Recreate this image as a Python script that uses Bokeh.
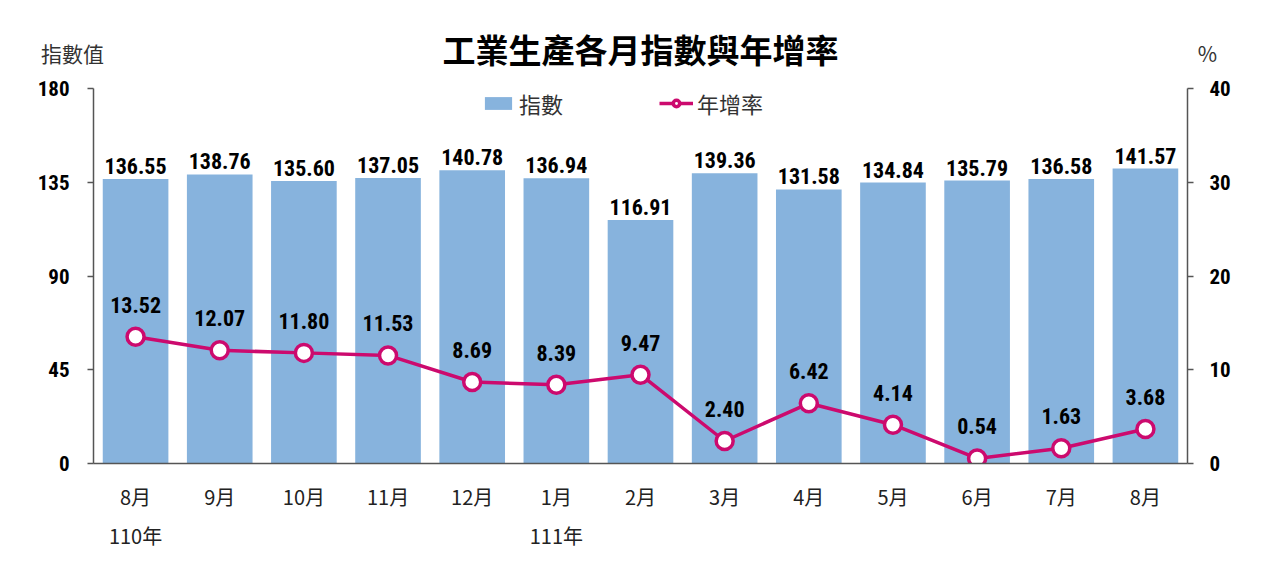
from bokeh.plotting import figure
from bokeh.layouts import column
from bokeh.models import (Range1d, LinearAxis, FixedTicker, Legend, LegendItem,
                          ColumnDataSource)
from bokeh.core.properties import value
from bokeh.embed import file_html
from bokeh.resources import INLINE

months = ["8月", "9月", "10月", "11月", "12月", "1月", "2月", "3月", "4月", "5月", "6月", "7月", "8月"]
years = {0: "110年", 5: "111年"}
index_vals = [136.55, 138.76, 135.60, 137.05, 140.78, 136.94, 116.91, 139.36, 131.58, 134.84, 135.79, 136.58, 141.57]
growth_vals = [13.52, 12.07, 11.80, 11.53, 8.69, 8.39, 9.47, 2.40, 6.42, 4.14, 0.54, 1.63, 3.68]
left_ticks = [0, 45, 90, 135, 180]
right_ticks = [0, 10, 20, 30, 40]
title_text = "工業生產各月指數與年增率"
left_unit = "指數值"
right_unit = "%"

BAR = "#87B3DD"
LINE = "#CC0A6E"
AXIS = "#555555"
NUM_FONT = "Liberation Sans Narrow, Arial Narrow, Noto Sans Condensed, Roboto Condensed, Liberation Sans"
CJK = "Noto Sans CJK TC"
W = 1264
HEAD_H = 78

# ---------- header (title and axis units) ----------
head = figure(width=W, height=HEAD_H, output_backend="svg", toolbar_location=None,
              x_range=Range1d(0, W), y_range=Range1d(0, HEAD_H),
              x_axis_location=None, y_axis_location=None,
              min_border=0, min_border_left=0, min_border_right=0,
              min_border_top=0, min_border_bottom=0)
head.frame_align = False
head.grid.visible = False
head.outline_line_color = None
head.text(x=[640], y=[HEAD_H - 48], text=[title_text], text_align="center", text_baseline="middle",
          text_font=value(CJK), text_font_style="bold", text_font_size="33px", text_color="black")
head.text(x=[72, 1207], y=[HEAD_H - 52, HEAD_H - 52], text=[left_unit, right_unit], text_align="center",
          text_baseline="middle", text_font=value(CJK), text_font_size="21px", text_color="#333333")

# ---------- main chart ----------
xs = list(range(len(months)))
src = ColumnDataSource(dict(
    x=xs, idx=index_vals, g=growth_vals,
    idx_txt=[f"{v:.2f}" for v in index_vals],
    g_txt=[f"{v:.2f}" for v in growth_vals],
))

p = figure(width=W, height=561 - HEAD_H, output_backend="svg", toolbar_location=None,
           x_range=Range1d(-0.5, len(months) - 0.5), y_range=Range1d(0, 180),
           min_border_left=93, min_border_right=77, min_border_top=88 - HEAD_H, min_border_bottom=98)
p.frame_align = False
p.outline_line_color = None
p.xgrid.visible = False
p.ygrid.visible = False
p.extra_y_ranges = {"pct": Range1d(0, 40)}

bars = p.vbar(x="x", top="idx", width=0.78, source=src, fill_color=BAR, line_color=None)
ln = p.line(x="x", y="g", source=src, y_range_name="pct", line_color=LINE, line_width=3.5)
sc = p.scatter(x="x", y="g", source=src, y_range_name="pct", size=17, fill_color="white",
               line_color=LINE, line_width=3.5)

p.text(x="x", y="idx", text="idx_txt", source=src, text_align="center", text_baseline="bottom",
       y_offset=-5, text_font=value(NUM_FONT), text_font_style="bold", text_font_size="22px",
       text_color="black")
p.text(x="x", y="g", text="g_txt", source=src, y_range_name="pct", text_align="center",
       text_baseline="bottom", y_offset=-24, text_font=value(NUM_FONT), text_font_style="bold",
       text_font_size="22px", text_color="black")

ya = p.yaxis[0]
ya.ticker = FixedTicker(ticks=left_ticks)
ya.minor_tick_line_color = None
ya.major_tick_in = 0
ya.major_tick_out = 6
ya.axis_line_color = AXIS
ya.axis_line_width = 1.5
ya.major_tick_line_color = AXIS
ya.major_tick_line_width = 1.5
ya.major_label_text_font = NUM_FONT
ya.major_label_text_font_style = "bold"
ya.major_label_text_font_size = "21px"
ya.major_label_text_color = "black"
ya.major_label_standoff = 18

ra = LinearAxis(y_range_name="pct", ticker=FixedTicker(ticks=right_ticks))
ra.minor_tick_line_color = None
ra.major_tick_in = 0
ra.major_tick_out = 6
ra.axis_line_color = AXIS
ra.axis_line_width = 1.5
ra.major_tick_line_color = AXIS
ra.major_tick_line_width = 1.5
ra.major_label_text_font = NUM_FONT
ra.major_label_text_font_style = "bold"
ra.major_label_text_font_size = "21px"
ra.major_label_text_color = "black"
ra.major_label_standoff = 16
p.add_layout(ra, "right")

xa = p.xaxis[0]
xa.ticker = FixedTicker(ticks=xs)
xa.major_label_overrides = {i: m for i, m in enumerate(months)}
xa.minor_tick_line_color = None
xa.major_tick_line_color = None
xa.axis_line_color = AXIS
xa.axis_line_width = 1.5
xa.major_label_text_font = CJK
xa.major_label_text_font_size = "20px"
xa.major_label_text_color = "#222222"
xa.major_label_standoff = 12

ya2 = LinearAxis(ticker=FixedTicker(ticks=list(years.keys())))
ya2.major_label_overrides = dict(years)
ya2.axis_line_color = None
ya2.major_tick_line_color = None
ya2.minor_tick_line_color = None
ya2.major_label_text_font = CJK
ya2.major_label_text_font_size = "20px"
ya2.major_label_text_color = "#222222"
ya2.major_label_standoff = 1
p.add_layout(ya2, "below")

legend = Legend(items=[LegendItem(label="指數", renderers=[bars]),
                       LegendItem(label="年增率", renderers=[ln, sc])],
                orientation="horizontal", location=(388, 344))
legend.border_line_color = None
legend.background_fill_alpha = 0
legend.padding = 0
legend.margin = 0
legend.spacing = 96
legend.glyph_width = 34
legend.glyph_height = 16
legend.label_standoff = 4
legend.label_text_font = CJK
legend.label_text_font_size = "22px"
legend.label_text_color = "#333333"
legend.label_height = 26
p.add_layout(legend, "center")

layout = column(head, p, spacing=0)
open("out.html", "w").write(file_html(layout, INLINE))
